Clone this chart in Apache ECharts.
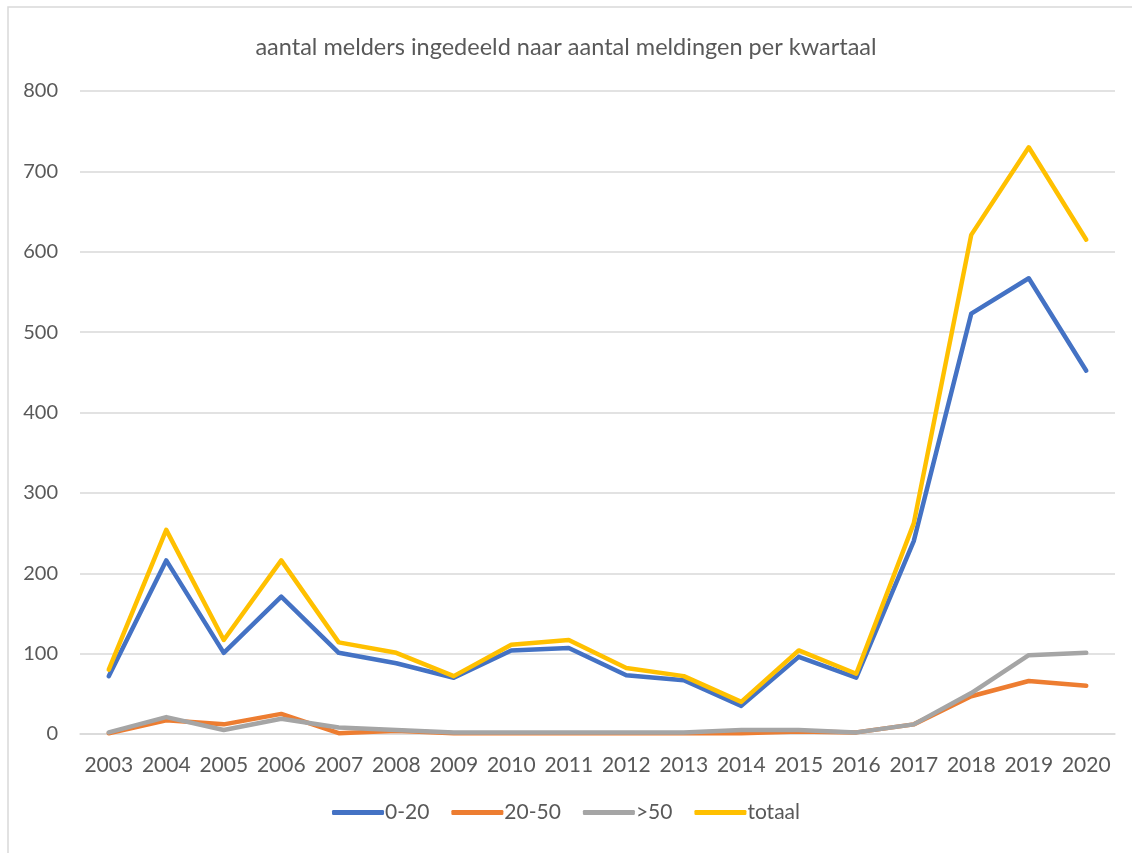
<!DOCTYPE html>
<html>
<head>
<meta charset="utf-8">
<script src="https://cdn.jsdelivr.net/npm/echarts@6/dist/echarts.min.js"></script>
<style>
html,body{margin:0;padding:0;background:#fff;}
#chart{width:1132px;height:853px;}
</style>
</head>
<body>
<div id="chart"></div>
<script>
const years = ['2003','2004','2005','2006','2007','2008','2009','2010','2011','2012','2013','2014','2015','2016','2017','2018','2019','2020'];
const s0_20 = [72,216,101,171,101,88,70,104,107,73,67,35,96,70,240,523,567,452];
const s20_50 = [1,17,12,25,1,4,1,1,1,1,1,1,3,2,12,47,66,60];
const s50plus = [2,21,5,19,8,5,2,2,2,2,2,5,5,2,12,51,98,101];
const totaal = [80,254,117,216,114,101,72,111,117,82,72,40,104,75,262,621,730,615];
const yTicks = [0,100,200,300,400,500,600,700,800];

const font = 'Lato, "Open Sans", sans-serif';
const chart = echarts.init(document.getElementById('chart'), null, {renderer:'canvas'});
function line(name, data, color){
  return {name, type:'line', data, symbol:'none', smooth:false,
    lineStyle:{width:4.5, color, cap:'round', join:'round'}, itemStyle:{color}};
}
chart.setOption({
  animation:false,
  backgroundColor:'#fff',
  graphic:[{type:'rect', shape:{x:8,y:7,width:1140,height:860}, style:{fill:'none', stroke:'#d9d9d9', lineWidth:1.5}, silent:true}],
  title:{text:'aantal melders ingedeeld naar aantal meldingen per kwartaal', left:'center', top:30,
    textStyle:{fontFamily:font, fontSize:23.5, fontWeight:'normal', color:'#595959'}},
  legend:{bottom:25, left:'center', itemWidth:52, itemHeight:5, itemGap:22, icon:'roundRect',
    textStyle:{fontFamily:font, fontSize:21, color:'#595959', padding:[0,0,0,-4]},
    data:['0-20','20-50','>50','totaal']},
  grid:{left:80, right:17, top:91, bottom:119, containLabel:false},
  xAxis:{type:'category', data:years, boundaryGap:true,
    axisLine:{show:true, lineStyle:{color:'#d9d9d9', width:1.5}}, axisTick:{show:false},
    axisLabel:{fontFamily:font, fontSize:21, color:'#595959', margin:21, interval:0}},
  yAxis:{type:'value', min:0, max:800, interval:100,
    axisLine:{show:false}, axisTick:{show:false},
    splitLine:{lineStyle:{color:'#d9d9d9', width:1.5}},
    axisLabel:{fontFamily:font, fontSize:20, color:'#595959', margin:22,
      formatter:v=> yTicks.includes(v)? String(v):''}},
  series:[
    line('0-20', s0_20, '#4472C4'),
    line('20-50', s20_50, '#ED7D31'),
    line('>50', s50plus, '#A5A5A5'),
    line('totaal', totaal, '#FFC000')
  ]
});
</script>
</body>
</html>
